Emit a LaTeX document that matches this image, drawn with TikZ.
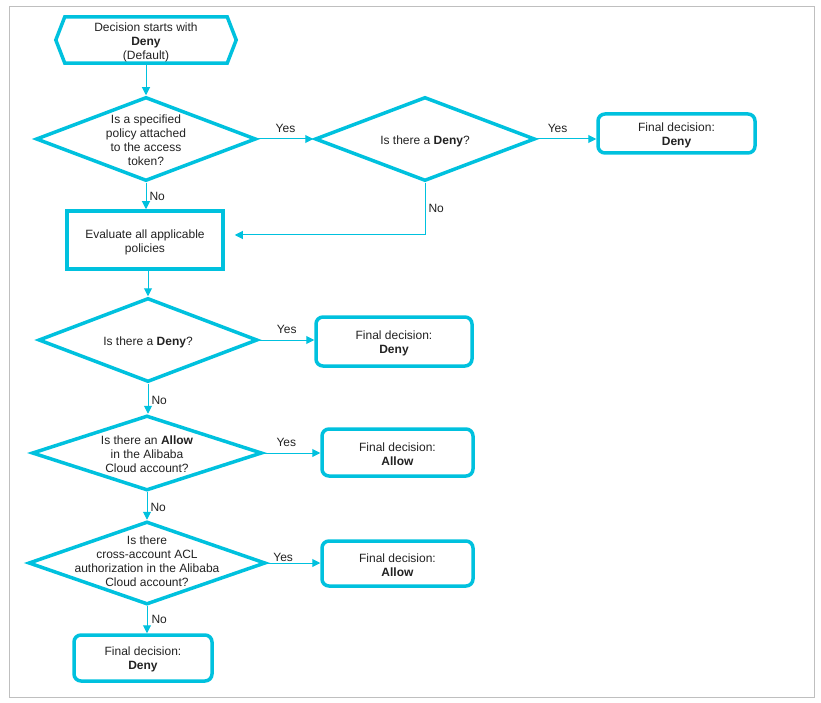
\documentclass[tikz,border=0pt]{standalone}
\usepackage{fontspec}
\setmainfont{Liberation Sans}
\usetikzlibrary{shapes.geometric,arrows.meta}
\definecolor{ali}{HTML}{00C1DE}
\definecolor{txt}{HTML}{222222}
\begin{document}
\begin{tikzpicture}[x=1pt,y=-1pt,
  every node/.style={font=\fontsize{12}{14}\selectfont, text=txt},
  dia/.style={diamond, draw=ali, line width=3.5pt, inner sep=0pt},
  txtn/.style={align=center, inner sep=0pt},
  fbox/.style={draw=ali, line width=3.5pt, rounded corners=7pt, inner sep=0pt},
  ebox/.style={draw=ali, line width=3.5pt, inner sep=0pt},
  conn/.style={draw=ali, line width=1pt, -{Triangle[length=8pt,width=8pt]}},
  lbl/.style={font=\fontsize{12}{14}\selectfont, inner sep=2pt},
  ylbl/.style={lbl, above, yshift=3.5pt}
]
\useasboundingbox (0,0) rectangle (821,703);
\draw[black!25, line width=0.8pt] (9,6) rectangle (814,697);

% start hexagon
\node[minimum width=180pt, minimum height=46pt, inner sep=0pt] (start) at (146,40) {};
\draw[ali, line width=3.5pt, line join=miter]
  ([xshift=9pt]start.north west) -- ([xshift=-9pt]start.north east) -- (start.east)
  -- ([xshift=-9pt]start.south east) -- ([xshift=9pt]start.south west) -- (start.west) -- cycle;
\node[txtn] (ts) at ([yshift=-2.5pt]start.center) {Decision starts with\\\textbf{Deny}\\(Default)};

% diamonds
\node[dia, minimum width=220pt, minimum height=84pt] (d1) at (146,139) {};
\node[txtn] (t1) at ([yshift=-1pt]d1.center) {Is a specified\\policy attached\\to the access\\token?};
\node[dia, minimum width=220pt, minimum height=84pt] (d2) at (425,139) {};
\node[txtn] (t2) at ([yshift=-2pt]d2.center) {Is there a \textbf{Deny}?};
\node[dia, minimum width=219pt, minimum height=84pt] (d3) at (148,340) {};
\node[txtn] (t3) at ([yshift=-2.5pt]d3.center) {Is there a \textbf{Deny}?};
\node[dia, minimum width=230pt, minimum height=75pt] (d4) at (147,453) {};
\node[txtn] (t4) at ([yshift=-1.5pt]d4.center) {Is there an \textbf{Allow}\\in the Alibaba\\Cloud account?};
\node[dia, minimum width=237pt, minimum height=83pt] (d5) at (147,563) {};
\node[txtn] (t5) at ([yshift=2pt]d5.center) {Is there\\cross-account ACL\\authorization in the Alibaba\\Cloud account?};

% boxes
\node[fbox, minimum width=157pt, minimum height=39pt] (b1) at (676.5,133.5) {};
\node[txtn] (tb1) at ([yshift=-2pt]b1.center) {Final decision:\\\textbf{Deny}};
\node[ebox, minimum width=156pt, minimum height=58pt] (ev) at (145,240) {};
\node[txtn] (tev) at ([yshift=-2.5pt]ev.center) {Evaluate all applicable\\policies};
\node[fbox, minimum width=156pt, minimum height=49pt] (b2) at (394,341.5) {};
\node[txtn] (tb2) at ([yshift=-2pt]b2.center) {Final decision:\\\textbf{Deny}};
\node[fbox, minimum width=151pt, minimum height=47pt] (b3) at (397.5,452.5) {};
\node[txtn] (tb3) at ([yshift=-1.5pt]b3.center) {Final decision:\\\textbf{Allow}};
\node[fbox, minimum width=151pt, minimum height=45pt] (b4) at (397.5,563.5) {};
\node[txtn] (tb4) at ([yshift=-1.5pt]b4.center) {Final decision:\\\textbf{Allow}};
\node[fbox, minimum width=138pt, minimum height=46pt] (b5) at (143,658) {};
\node[txtn] (tb5) at ([yshift=-1.5pt]b5.center) {Final decision:\\\textbf{Deny}};

% connectors
\draw[conn] (start.south) -- (d1.north);
\draw[conn] (d1.east) -- node[ylbl, pos=0.5] {Yes} (d2.west);
\draw[conn] (d2.east) -- node[ylbl, pos=0.35] {Yes} (d2.east -| b1.west);
\draw[conn] (d1.south) -- node[lbl, right, pos=0.5, xshift=1pt] {No} (d1.south |- ev.north);
\draw[conn, shorten >=10pt] (d2.south) |- node[lbl, right, pos=0.25, xshift=1pt] {No} ([yshift=5pt]ev.east);
\draw[conn] (ev.south -| d3.north) -- (d3.north);
\draw[conn] (d3.east) -- node[ylbl, pos=0.5] {Yes} (d3.east -| b2.west);
\draw[conn] (d3.south) -- node[lbl, right, pos=0.55, xshift=1pt] {No} (d3.south |- d4.north);
\draw[conn] (d4.east) -- node[ylbl, pos=0.4] {Yes} (d4.east -| b3.west);
\draw[conn] (d4.south) -- node[lbl, right, pos=0.55, xshift=1pt] {No} (d5.north);
\draw[conn] (d5.east) -- node[lbl, above, pos=0.3, inner sep=0.5pt] {Yes} (d5.east -| b4.west);
\draw[conn] (d5.south) -- node[lbl, right, pos=0.5, xshift=2pt] {No} (d5.south |- b5.north);
\end{tikzpicture}
\end{document}
